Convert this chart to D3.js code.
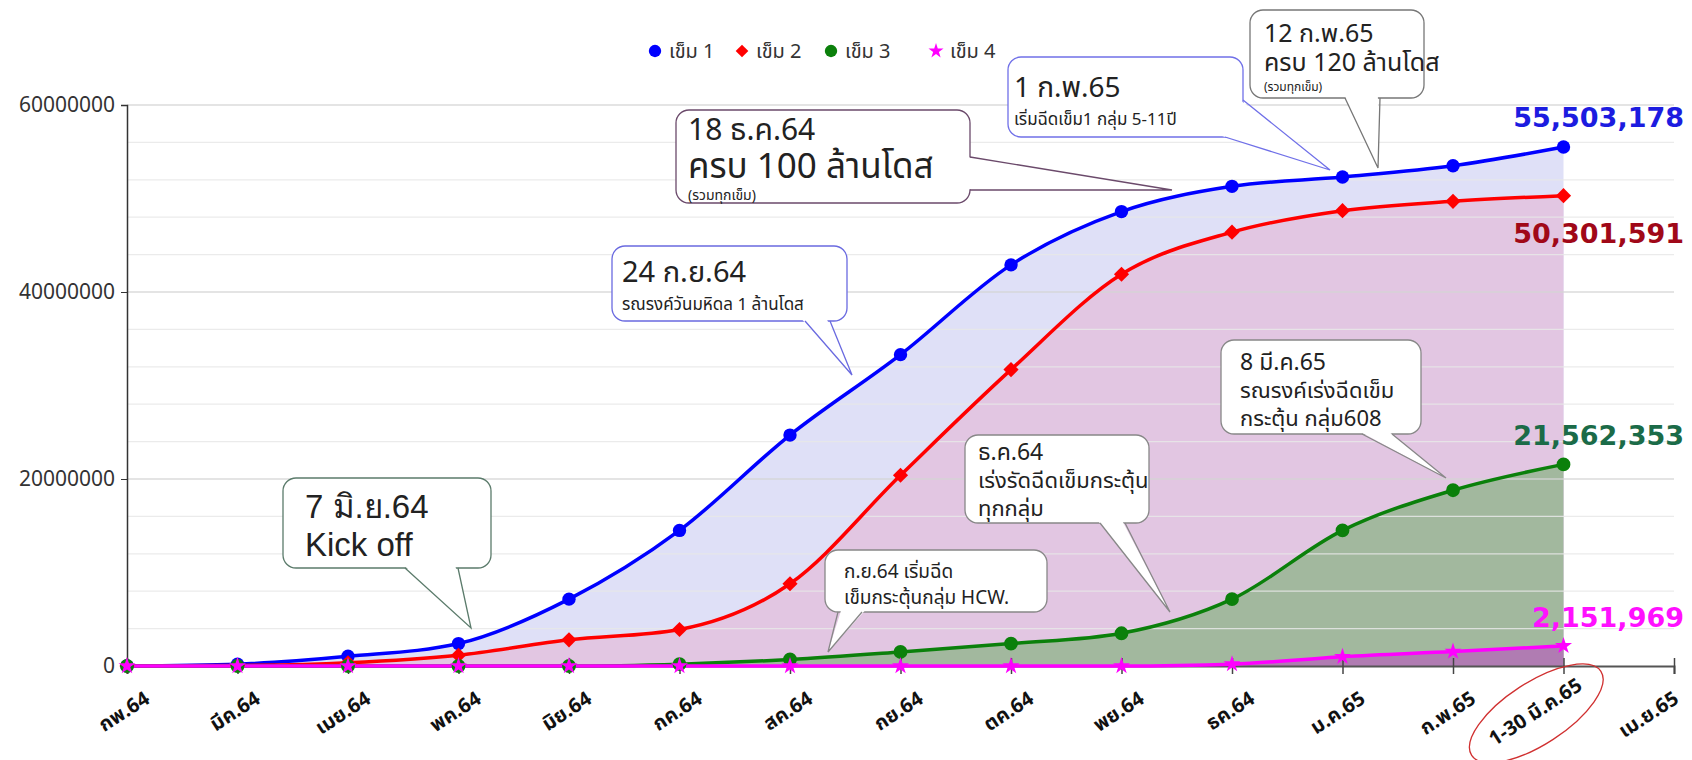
<!DOCTYPE html>
<html><head><meta charset="utf-8">
<script src="https://cdn.jsdelivr.net/npm/d3@7"></script>
<style>
body{margin:0;background:#fff}
svg{display:block}
text{font-family:"Noto Sans Thai","Noto Sans","Open Sans",sans-serif}
</style>
</head><body>
<svg id="c" width="1692" height="760"></svg>
<script>
// ---------- data ----------
const categories = ["กพ.64","มีค.64","เมย.64","พค.64","มิย.64","กค.64","สค.64","กย.64","ตค.64","พย.64","ธค.64","ม.ค.65","ก.พ.65","1-30 มี.ค.65","เม.ย.65"];
const dose1 = [0,200000,1040000,2400000,7150000,14500000,24700000,33300000,42900000,48600000,51300000,52300000,53500000,55503178];
const dose2 = [0,50000,350000,1150000,2800000,3900000,8800000,20400000,31700000,41900000,46400000,48700000,49700000,50301591];
const dose3 = [0,0,0,0,0,200000,700000,1500000,2400000,3500000,7150000,14500000,18800000,21562353];
const dose4 = [0,0,0,0,0,0,0,0,0,10000,200000,1000000,1550000,2151969];
const seriesNames = ["เข็ม 1","เข็ม 2","เข็ม 3","เข็ม 4"];
const yTicks = [0,20000000,40000000,60000000];
const endLabels = ["55,503,178","50,301,591","21,562,353","2,151,969"];

// ---------- styles ----------
const lineColors = ["#0000ff","#ff0000","#0b800b","#ff00ff"];
const fillColors = ["#dfe0f7","#e2c6e2","#a2b89e","#b07cb2"];
const labelColors = ["#1c1ce0","#a00818","#1b6b48","#ff10ff"];
const symbols = [d3.symbolCircle,d3.symbolSquare,d3.symbolCircle,d3.symbolStar];
const symRot = [0,45,0,0];
const symSizes = [140,115,150,90];

const svg = d3.select("#c");
const W=1692,H=760;
svg.append("rect").attr("width",W).attr("height",H).attr("fill","#fff");

const x = d3.scalePoint().domain(categories).range([127,1674]);
const y = d3.scaleLinear().domain([0,60000000]).range([666,105]);
const series = [dose1,dose2,dose3,dose4];

// fills
const area = d3.area().x((d,i)=>x(categories[i])).y0(y(0)).y1(d=>y(d)).curve(d3.curveMonotoneX);
series.forEach((s,k)=>{
  svg.append("path").attr("d",area(s)).attr("fill",fillColors[k]);
});

// gridlines
const minor = d3.range(4000000,60000001,4000000);
svg.append("g").selectAll("line").data(minor).join("line")
  .attr("x1",127).attr("x2",1674).attr("y1",d=>y(d)).attr("y2",d=>y(d))
  .attr("stroke",d=>d%20000000===0?"#d4d4d4":"#e8e8e8").attr("stroke-opacity",0.85).attr("stroke-width",1.3);

// axes
const xAxis = svg.append("g").attr("transform",`translate(0,${y(0)})`).call(d3.axisBottom(x).tickSize(8).tickFormat(""));
xAxis.select(".domain").attr("stroke","#555").attr("stroke-width",2);
xAxis.selectAll(".tick line").attr("stroke","#444").attr("stroke-width",1.5).attr("y1",-8);
const yAxis = svg.append("g").attr("transform","translate(127,0)")
  .call(d3.axisLeft(y).tickValues(yTicks).tickSize(6).tickFormat(d3.format("d")));
yAxis.select(".domain").attr("stroke","#333").attr("stroke-width",1.5);
yAxis.selectAll(".tick line").attr("stroke","#333");
yAxis.selectAll(".tick text").attr("font-size",21).attr("fill","#333").attr("x",-12)
  .style("font-family","'Noto Sans','Open Sans',sans-serif");

// x labels
const lastCat = categories[13];
const xl = svg.append("g").selectAll("g").data(categories).join("g")
  .attr("transform",d=>`translate(${Math.min(x(d)+24,1680)},${y(0)+36}) rotate(-33)`);
xl.append("text").attr("text-anchor","end").attr("font-size",20).attr("font-weight","bold").attr("fill","#111")
  .text(d=>d);
// keep the long last-data label inside the picture, then ring it with the red ellipse
xl.filter(d=>d===lastCat).each(function(d){
  const g=d3.select(this);
  const r=g.node().getBoundingClientRect();
  const lift=Math.max(0,r.bottom-754);
  g.attr("transform",`translate(${x(d)+24-lift*0.3},${y(0)+36-lift}) rotate(-33)`);
  const bb=g.select("text").node().getBBox();
  g.append("ellipse").attr("cx",bb.x+bb.width/2).attr("cy",bb.y+bb.height/2+1)
    .attr("rx",bb.width/2+24).attr("ry",bb.height/2+16)
    .attr("fill","none").attr("stroke","#d03030").attr("stroke-width",1.3);
});

// lines + markers
const line = d3.line().x((d,i)=>x(categories[i])).y(d=>y(d)).curve(d3.curveMonotoneX);
series.forEach((s,k)=>{
  svg.append("path").attr("d",line(s)).attr("fill","none").attr("stroke",lineColors[k]).attr("stroke-width",3.5);
});
series.forEach((s,k)=>{
  svg.append("g").selectAll("path").data(s).join("path")
    .attr("transform",(d,i)=>`translate(${x(categories[i])},${y(d)}) rotate(${symRot[k]})`)
    .attr("d",d3.symbol().type(symbols[k]).size(symSizes[k])).attr("fill",lineColors[k]);
});

// legend
const legX=[655,742,831,936];
seriesNames.forEach((n,k)=>{
  svg.append("path").attr("transform",`translate(${legX[k]},51) rotate(${symRot[k]})`)
    .attr("d",d3.symbol().type(symbols[k]).size(k===3?70:(k===1?80:120))).attr("fill",lineColors[k]);
  svg.append("text").attr("x",legX[k]+14).attr("y",58).attr("font-size",20).attr("fill","#333").text(n);
});

// end labels
const endY=[127,243,445,627];
endLabels.forEach((t,k)=>{
  svg.append("text").attr("x",1684).attr("y",endY[k]).attr("text-anchor","end")
    .attr("font-size",27).attr("font-weight","bold").attr("fill",labelColors[k])
    .style("font-family","'DejaVu Sans',sans-serif").text(t);
});

// callouts
const callouts = [
  {box:[283,478,208,90],stroke:"#5b7b6b",base:[[405,568],[458,568]],tip:[471,628],tx:305,
   lines:[["7 มิ.ย.64",33,518],["Kick off",33,556]],font:"'Liberation Sans',Arial,sans-serif"},
  {box:[612,246,235,75],stroke:"#6a6ae0",base:[[805,321],[830,321]],tip:[852,375],tx:622,
   lines:[["24 ก.ย.64",29,282],["รณรงค์วันมหิดล 1 ล้านโดส",17,310]]},
  {box:[676,110,294,93],stroke:"#6b4a6b",base:[[970,157],[970,190]],tip:[1172,190],tx:688,
   lines:[["18 ธ.ค.64",30,140],["ครบ 100 ล้านโดส",35,178],["(รวมทุกเข็ม)",14,200]]},
  {box:[1008,57,235,80],stroke:"#7070e8",base:[[1243,100],[1225,137]],tip:[1330,170],tx:1014,
   lines:[["1 ก.พ.65",28,97],["เริ่มฉีดเข็ม1 กลุ่ม 5-11ปี",17,125]]},
  {box:[1250,10,174,88],stroke:"#777",base:[[1345,98],[1380,98]],tip:[1378,168],tx:1264,
   lines:[["12 ก.พ.65",25,42],["ครบ 120 ล้านโดส",25,71],["(รวมทุกเข็ม)",12,91]]},
  {box:[825,550,222,62],stroke:"#888",base:[[838,612],[862,612]],tip:[828,652],tx:844,
   lines:[["ก.ย.64 เริ่มฉีด",19,578],["เข็มกระตุ้นกลุ่ม HCW.",19,604]]},
  {box:[965,435,184,88],stroke:"#888",base:[[1100,523],[1125,523]],tip:[1170,612],tx:978,
   lines:[["ธ.ค.64",23,460],["เร่งรัดฉีดเข็มกระตุ้น",22,488],["ทุกกลุ่ม",22,516]]},
  {box:[1221,340,200,94],stroke:"#888",base:[[1362,434],[1392,434]],tip:[1446,478],tx:1240,
   lines:[["8 มี.ค.65",23,370],["รณรงค์เร่งฉีดเข็ม",22,398],["กระตุ้น กลุ่ม608",22,426]]}
];
callouts.forEach(c=>{
  const g=svg.append("g");
  const [bx,by,bw,bh]=c.box;
  const cx=bx+bw/2, cy=by+bh/2;
  g.append("rect").attr("x",bx).attr("y",by).attr("width",bw).attr("height",bh).attr("rx",13)
    .attr("fill","#fff").attr("stroke",c.stroke).attr("stroke-width",1.3);
  const inward=p=>{const dx=cx-p[0],dy=cy-p[1],L=Math.hypot(dx,dy);return [p[0]+dx/L*3,p[1]+dy/L*3];};
  g.append("path").attr("d",d3.line()([inward(c.base[0]),c.tip,inward(c.base[1])])+"Z").attr("fill","#fff");
  g.append("path").attr("d",d3.line()([c.base[0],c.tip,c.base[1]])).attr("fill","none")
    .attr("stroke",c.stroke).attr("stroke-width",1.3);
  c.lines.forEach(([t,fs,yy])=>{
    const tx=g.append("text").attr("x",c.tx).attr("y",yy).attr("font-size",fs).attr("fill","#222").text(t);
    if(c.font) tx.style("font-family",c.font);
  });
});
</script>
</body></html>
